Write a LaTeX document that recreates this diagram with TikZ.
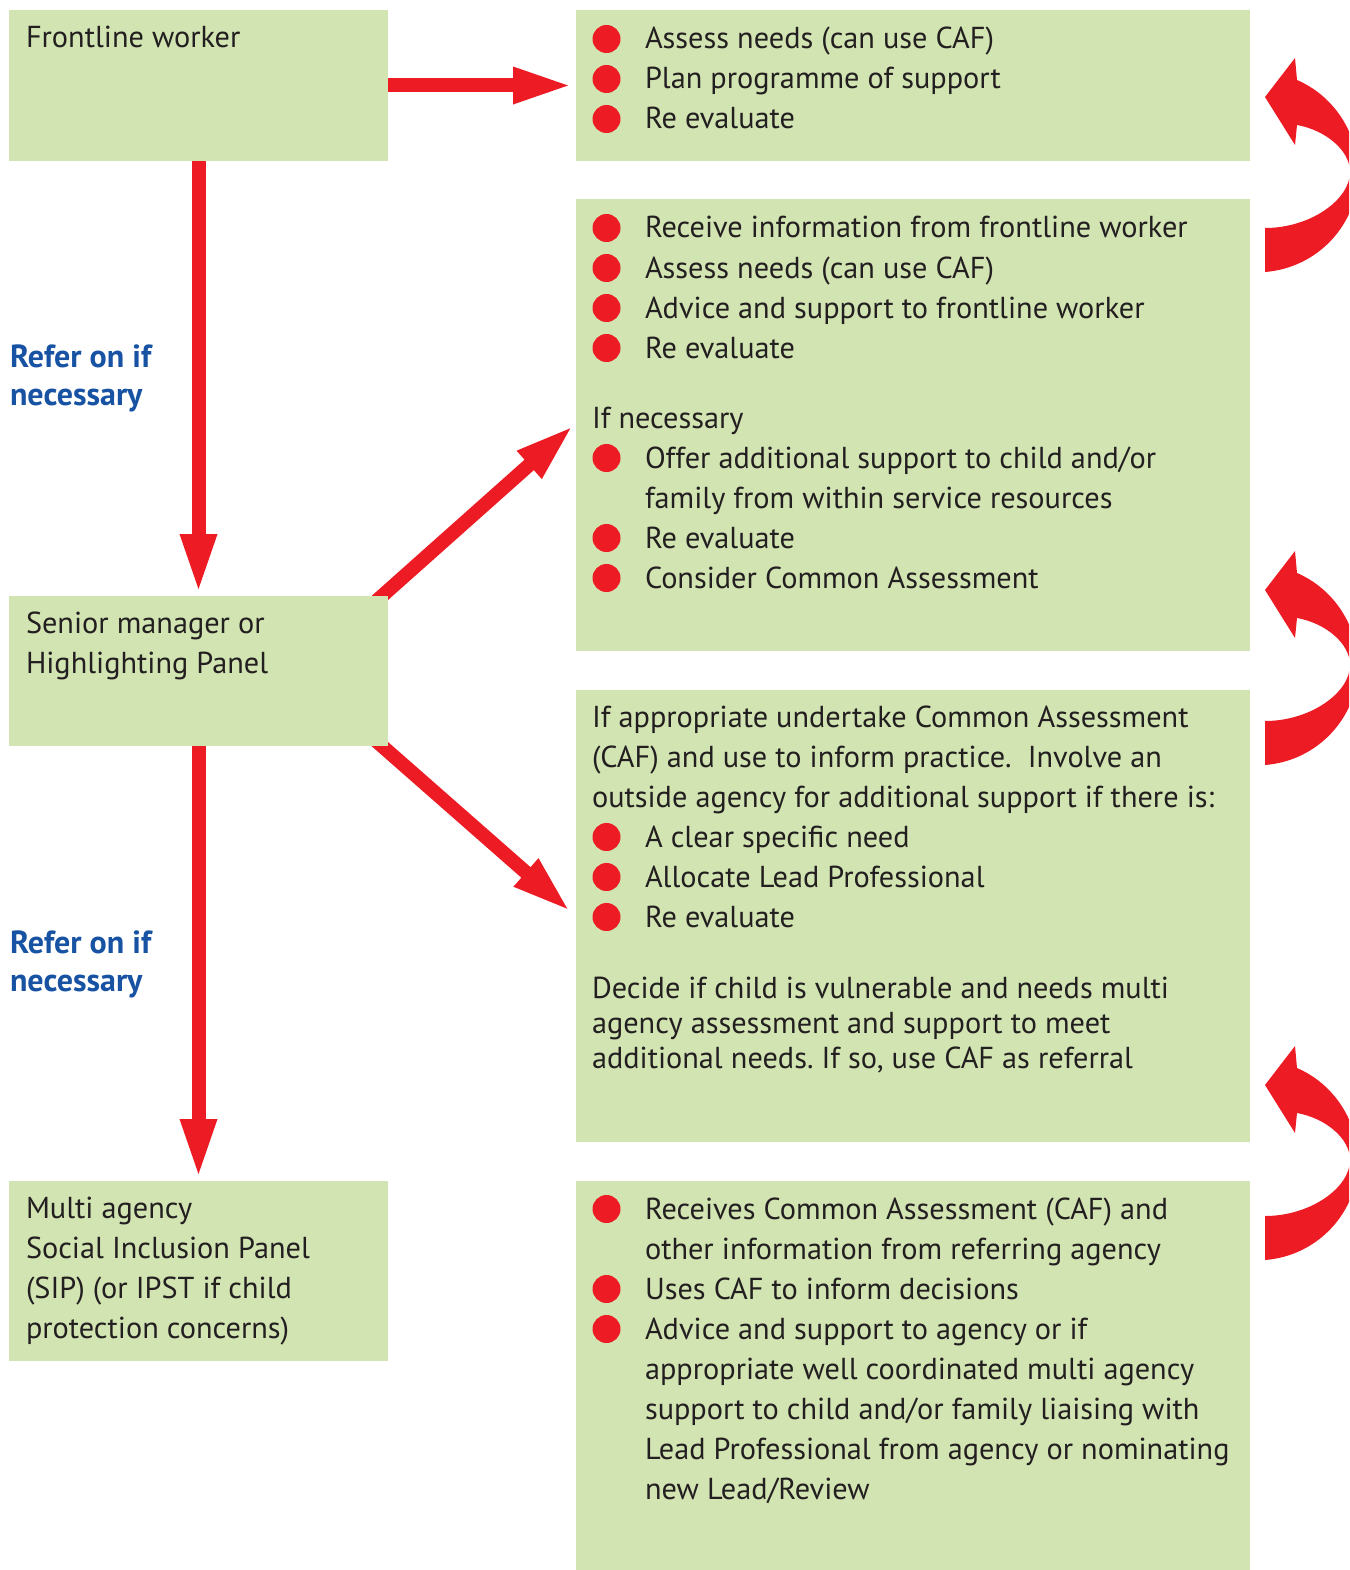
\documentclass[tikz,border=0pt]{standalone}
\usepackage{fontspec}
\setmainfont{PT Sans}
\usetikzlibrary{arrows.meta}
\frenchspacing
\definecolor{boxgreen}{HTML}{D1E4B2}
\definecolor{arrred}{HTML}{ED1C24}
\definecolor{refblue}{HTML}{1752A3}
\definecolor{txtgray}{HTML}{231F20}
\pgfdeclarelayer{bg}
\pgfsetlayers{bg,main}
\tikzset{
  box/.style={fill=boxgreen, draw=none, anchor=north west, inner sep=0, outer sep=0},
  txt/.style={anchor=base west, inner sep=0, outer sep=0, text=txtgray, font=\fontsize{30.3}{40}\selectfont},
  reftxt/.style={anchor=base west, inner sep=0, outer sep=0, text=refblue, font=\fontsize{32}{40}\selectfont\bfseries},
  bul/.style={circle, fill=arrred, minimum size=28pt, inner sep=0},
  arr/.style={draw=arrred, line width=14pt, -{Triangle[length=60pt,width=33pt]}},
}
\newcommand\bitem[3]{\node[bul] (#1b) at (606.5,#2-10) {}; \node[txt] (#1) at (645,#2) {#3};}
\newcommand\curvarrow[1]{%
  \fill[arrred, shift={(0,#1)}] (1265,97) -- (1295,58) -- (1297,80)
    .. controls (1334,96) and (1358,133) .. (1358,173)
    .. controls (1358,225) and (1317,268) .. (1265,272)
    -- (1265,228)
    .. controls (1310,228) and (1350,200) .. (1350,172)
    .. controls (1350,150) and (1325,130) .. (1297,125)
    -- (1295,145) -- cycle;}
\begin{document}
\begin{tikzpicture}[x=1pt,y=-1pt]
\useasboundingbox (0,0) rectangle (1349,1570);
% boxes
\node[box, minimum width=379pt, minimum height=151pt] (fw) at (9,10) {};
\node[box, minimum width=379pt, minimum height=150pt] (sm) at (9,596) {};
\node[box, minimum width=379pt, minimum height=180pt] (ml) at (9,1181) {};
\node[box, minimum width=674pt, minimum height=151pt] (A) at (576,10) {};
\node[box, minimum width=674pt, minimum height=452pt] (B) at (576,199) {};
\node[box, minimum width=674pt, minimum height=452pt] (C) at (576,690) {};
\node[box, minimum width=674pt, minimum height=390pt] (D) at (576,1181) {};
% arrows
\begin{pgfonlayer}{bg}
\draw[arr] (fw.east) -- ([xshift=-3pt]A.west);
\draw[arr] (fw.south) -- ([yshift=2pt]sm.north);
\draw[arr] (sm.south) -- ([yshift=2pt]ml.north);
\draw[arr] ([xshift=-13.5pt,yshift=-6.7pt]sm.north east) -- ([xshift=-2pt]B.west);
\draw[arr] ([xshift=-13.5pt,yshift=6.6pt]sm.south east) -- ([xshift=-5pt,yshift=4pt]C.west);
\end{pgfonlayer}
\begin{scope}
\clip (0,0) rectangle (1349,1570);
\curvarrow{0}
\curvarrow{493}
\curvarrow{988}
\end{scope}
% left texts
\node[txt] (fwt) at (26,48) {Frontline worker};
\node[txt] (smt1) at (26,633) {Senior manager or};
\node[txt] (smt2) at (26,673) {Highlighting Panel};
\node[txt] (mlt1) at (26,1218) {Multi agency};
\node[txt] (mlt2) at (26,1258) {Social Inclusion Panel};
\node[txt] (mlt3) at (26,1298) {(SIP) (or IPST if child};
\node[txt] (mlt4) at (26,1338) {protection concerns)};
\node[reftxt] (r1a) at (10,367) {Refer on if};
\node[reftxt] (r1b) at (10,405) {necessary};
\node[reftxt] (r2a) at (10,953) {Refer on if};
\node[reftxt] (r2b) at (10,991) {necessary};
% box A
\bitem{a1}{49}{Assess needs (can use CAF)}
\bitem{a2}{89}{Plan programme of support}
\bitem{a3}{129}{Re evaluate}
% box B
\bitem{b1}{238}{Receive information from frontline worker}
\bitem{b2}{278}{Assess needs (can use CAF)}
\bitem{b3}{318}{Advice and support to frontline worker}
\bitem{b4}{358}{Re evaluate}
\node[txt] (b5) at (592,428) {If necessary};
\bitem{b6}{468}{Offer additional support to child and/or}
\node[txt] (b7) at (645,508) {family from within service resources};
\bitem{b8}{548}{Re evaluate}
\bitem{b9}{588}{Consider Common Assessment}
% box C
\node[txt] (c1) at (592,727) {If appropriate undertake Common Assessment};
\node[txt] (c2) at (592,767) {(CAF) and use to inform practice.~ Involve an};
\node[txt] (c3) at (592,807) {outside agency for additional support if there is:};
\bitem{c4}{847}{A clear specific need}
\bitem{c5}{887}{Allocate Lead Professional}
\bitem{c6}{927}{Re evaluate}
\node[txt] (c7) at (592,998) {Decide if child is vulnerable and needs multi};
\node[txt] (c8) at (592,1033) {agency assessment and support to meet};
\node[txt] (c9) at (592,1068) {additional needs. If so, use CAF as referral};
% box D
\bitem{d1}{1219}{Receives Common Assessment (CAF) and}
\node[txt] (d2) at (645,1259) {other information from referring agency};
\bitem{d3}{1299}{Uses CAF to inform decisions}
\bitem{d4}{1339}{Advice and support to agency or if}
\node[txt] (d5) at (645,1379) {appropriate well coordinated multi agency};
\node[txt] (d6) at (645,1419) {support to child and/or family liaising with};
\node[txt] (d7) at (645,1459) {Lead Professional from agency or nominating};
\node[txt] (d8) at (645,1499) {new Lead/Review};
\end{tikzpicture}
\end{document}
